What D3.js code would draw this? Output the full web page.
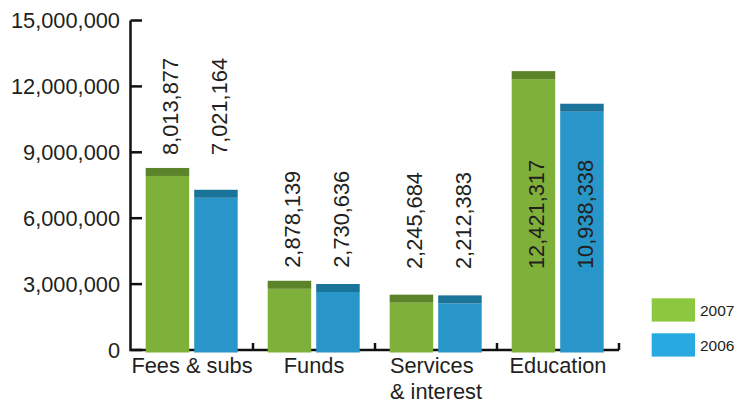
<!DOCTYPE html>
<html><head><meta charset="utf-8">
<script src="https://cdn.jsdelivr.net/npm/d3@7"></script>
<style>
body{margin:0;background:#fff}
svg{display:block}
text{font-family:"Liberation Sans",Arial,Helvetica,sans-serif;fill:#231f20}
</style>
</head><body>
<svg id="c" width="737" height="403"></svg>
<script>
const categories = ["Fees & subs", "Funds", "Services\n& interest", "Education"];
const series = ["2007", "2006"];
const values2007 = [8013877, 2878139, 2245684, 12421317];
const values2006 = [7021164, 2730636, 2212383, 10938338];
const yTicks = [0, 3000000, 6000000, 9000000, 12000000, 15000000];
const labelInside = [false, false, false, true];

const bodyColors = {"2007": "#7fb039", "2006": "#2896c8"};
const capColors = {"2007": "#5b8329", "2006": "#1a7398"};
const legendColors = {"2007": "#8dc63f", "2006": "#28aae1"};

const svg = d3.select("#c");
const y = d3.scaleLinear().domain([0, 15000000]).range([350, 20.5]);
const x0 = d3.scaleBand().domain(categories).range([131, 619]).padding(0);
const x1 = d3.scaleBand().domain(series).range([14.7, 106.7]).paddingInner(0.103).paddingOuter(0);
const fmt = d3.format(",");
const FS = 21.8;

// axes
const axis = svg.append("g");
axis.append("path")
  .attr("d", `M130.5,${y(15000000)}V${y(0)}H${x0.range()[1]}`)
  .attr("fill", "none").attr("stroke", "#111").attr("stroke-width", 2.5);
axis.selectAll("line.yt").data(yTicks).join("line")
  .attr("x1", 130.5).attr("x2", 142).attr("y1", d => y(d)).attr("y2", d => y(d))
  .attr("stroke", "#111").attr("stroke-width", 2.5);
axis.selectAll("text.yl").data(yTicks).join("text")
  .attr("x", 120).attr("y", d => y(d) + 7.7)
  .attr("text-anchor", "end").attr("font-size", FS)
  .text(d => fmt(d));
const boundaries = categories.map(c => x0(c) + x0.bandwidth());
axis.selectAll("line.xt").data(boundaries).join("line")
  .attr("x1", d => d).attr("x2", d => d).attr("y1", y(0)).attr("y2", y(0) - 7)
  .attr("stroke", "#111").attr("stroke-width", 2.5);

// bars
const rows = [];
categories.forEach((c, i) => {
  rows.push({cat: c, s: "2007", v: values2007[i], i});
  rows.push({cat: c, s: "2006", v: values2006[i], i});
});
const bars = svg.append("g");
rows.forEach(r => {
  const bx = x0(r.cat) + x1(r.s), bw = x1.bandwidth();
  const yv = y(r.v);
  bars.append("rect").attr("x", bx).attr("y", yv + 2).attr("width", bw)
    .attr("height", y(0) + 2.5 - (yv + 2)).attr("fill", bodyColors[r.s]);
  bars.append("rect").attr("x", bx).attr("y", yv - 6).attr("width", bw)
    .attr("height", 8).attr("fill", capColors[r.s]);
});

// value labels
categories.forEach((c, i) => {
  const top = Math.min(y(values2007[i]), y(values2006[i])) - 6;
  const yb = labelInside[i] ? 269 : Math.min(269, top - 13);
  series.forEach(s => {
    const v = s === "2007" ? values2007[i] : values2006[i];
    const cx = x0(c) + x1(s) + x1.bandwidth() / 2 + 11;
    svg.append("text")
      .attr("transform", `translate(${cx},${yb}) rotate(-90)`)
      .attr("font-size", FS).attr("text-anchor", "start")
      .text(fmt(v));
  });
});

// category labels
categories.forEach(c => {
  const lines = c.split("\n");
  const t = svg.append("text").attr("font-size", FS);
  lines.forEach((l, k) => {
    t.append("tspan").attr("y", 373.3 + k * 26).text(l);
  });
  const w = d3.max(t.selectAll("tspan").nodes(), n => n.getComputedTextLength());
  t.selectAll("tspan").attr("x", x0(c) + x0.bandwidth() / 2 - w / 2);
});

// legend
const leg = svg.append("g");
series.forEach((s, k) => {
  leg.append("rect").attr("x", 651.7).attr("y", 298.3 + k * 35).attr("width", 43.3)
    .attr("height", 23.3).attr("fill", legendColors[s]);
  leg.append("text").attr("x", 700).attr("y", 298.3 + k * 35 + 17.3)
    .attr("font-size", 15.5).text(s);
});
</script>
</body></html>
